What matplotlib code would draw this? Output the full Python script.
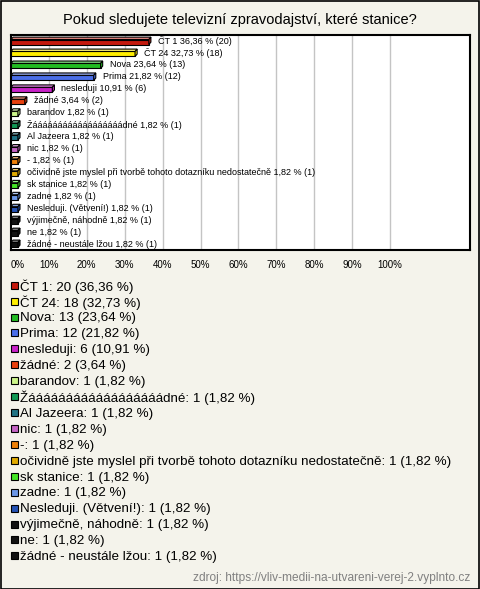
import numpy as np
import matplotlib.pyplot as plt
import matplotlib
from matplotlib.patches import Polygon, Rectangle

matplotlib.rcParams['font.family'] = ['Liberation Sans', 'DejaVu Sans']

title = "Pokud sledujete televizní zpravodajství, které stanice?"
source = "zdroj: https://vliv-medii-na-utvareni-verej-2.vyplnto.cz"

names = ["ČT 1", "ČT 24", "Nova", "Prima", "nesleduji", "žádné", "barandov",
         "Žáááááááááááááááááádné", "Al Jazeera", "nic", "-",
         "očividně jste myslel při tvorbě tohoto dotazníku nedostatečně",
         "sk stanice", "zadne", "Nesleduji. (Větvení!)", "výjimečně, náhodně",
         "ne", "žádné - neustále lžou"]
counts = [20, 18, 13, 12, 6, 2, 1, 1, 1, 1, 1, 1, 1, 1, 1, 1, 1, 1]
pcts = [36.36, 32.73, 23.64, 21.82, 10.91, 3.64, 1.82, 1.82, 1.82, 1.82, 1.82,
        1.82, 1.82, 1.82, 1.82, 1.82, 1.82, 1.82]
colors = ["#c41a0e", "#ffee00", "#22bb22", "#4a6ee8", "#c822c8", "#e8400e",
          "#ccf58a", "#119955", "#217384", "#c464c4", "#ee8008", "#e0aa00",
          "#44e626", "#6a96e6", "#2452b4", "#111111", "#111111", "#111111"]
ticks = [0, 10, 20, 30, 40, 50, 60, 70, 80, 90, 100]


def fmt(v):
    return ("%.2f" % v).replace(".", ",")


def lighter(c, f=0.45):
    rgb = np.array(matplotlib.colors.to_rgb(c))
    return tuple(rgb + (1 - rgb) * f)


W, H = 480, 589
fig = plt.figure(figsize=(W / 100, H / 100), dpi=100)
fig.patch.set_facecolor("#f4f3eb")
fig.patches.append(Rectangle((0.5 / W, 0.5 / H), 1 - 1.5 / W, 1 - 1.5 / H,
                             transform=fig.transFigure, fill=False,
                             edgecolor="black", linewidth=1.2))

fig.text(0.5, 1 - 20 / H, title, ha="center", va="center", fontsize=10.5)

ax = fig.add_axes([11 / W, 1 - 250 / H, 459 / W, 215 / H])
ax.set_facecolor("white")
n = len(names)
ax.set_xlim(0, 121.1)
ax.set_ylim(n - 0.58, -0.59)
for t in ticks[1:]:
    ax.axvline(t, color="#c4c4c4", linewidth=1, zorder=0)
ax.set_xticks(ticks)
ax.set_xticklabels(["%d%%" % t for t in ticks], fontsize=7)
ax.get_xticklabels()[0].set_horizontalalignment("left")
ax.tick_params(axis="x", length=0, pad=7)
ax.set_yticks([])
for s in ax.spines.values():
    s.set_linewidth(1.5)

h = 0.42
dx = 0.55
dy = 0.2
y = np.arange(n)
ax.barh(y, pcts, height=h, color=colors, edgecolor="black", linewidth=0.8, zorder=3)
for yi, p, c in zip(y, pcts, colors):
    top = yi - h / 2
    ax.add_patch(Polygon([(0, top), (p, top), (p + dx, top - dy), (dx, top - dy)],
                         closed=True, facecolor=lighter(c), edgecolor="black",
                         linewidth=0.8, zorder=3))
    ax.add_patch(Polygon([(p, top), (p + dx, top - dy), (p + dx, yi + h / 2 - dy),
                          (p, yi + h / 2)], closed=True, facecolor=c,
                         edgecolor="black", linewidth=0.8, zorder=3))
for yi, nm, p, c in zip(y, names, pcts, counts):
    ax.text(p + 2.4, yi - 0.08, "%s %s %% (%d)" % (nm, fmt(p), c),
            va="center", ha="left", fontsize=6.5, zorder=4)

# legend
y0 = 286.5
pitch = 15.92
for i, (nm, c, p, col) in enumerate(zip(names, counts, pcts, colors)):
    yy = y0 + i * pitch
    fig.patches.append(Rectangle((10.5 / W, 1 - (yy + 2.2) / H), 7 / W, 7 / H,
                                 transform=fig.transFigure, facecolor=col,
                                 edgecolor="black", linewidth=0.8))
    fig.text(20.5 / W, 1 - yy / H, "%s: %d (%s %%)" % (nm, c, fmt(p)),
             ha="left", va="center", fontsize=9.6)

fig.text(470 / W, 1 - 578 / H, source, ha="right", va="center",
         fontsize=8.6, color="#808080")

fig.savefig("out.png", dpi=100, facecolor=fig.get_facecolor())
